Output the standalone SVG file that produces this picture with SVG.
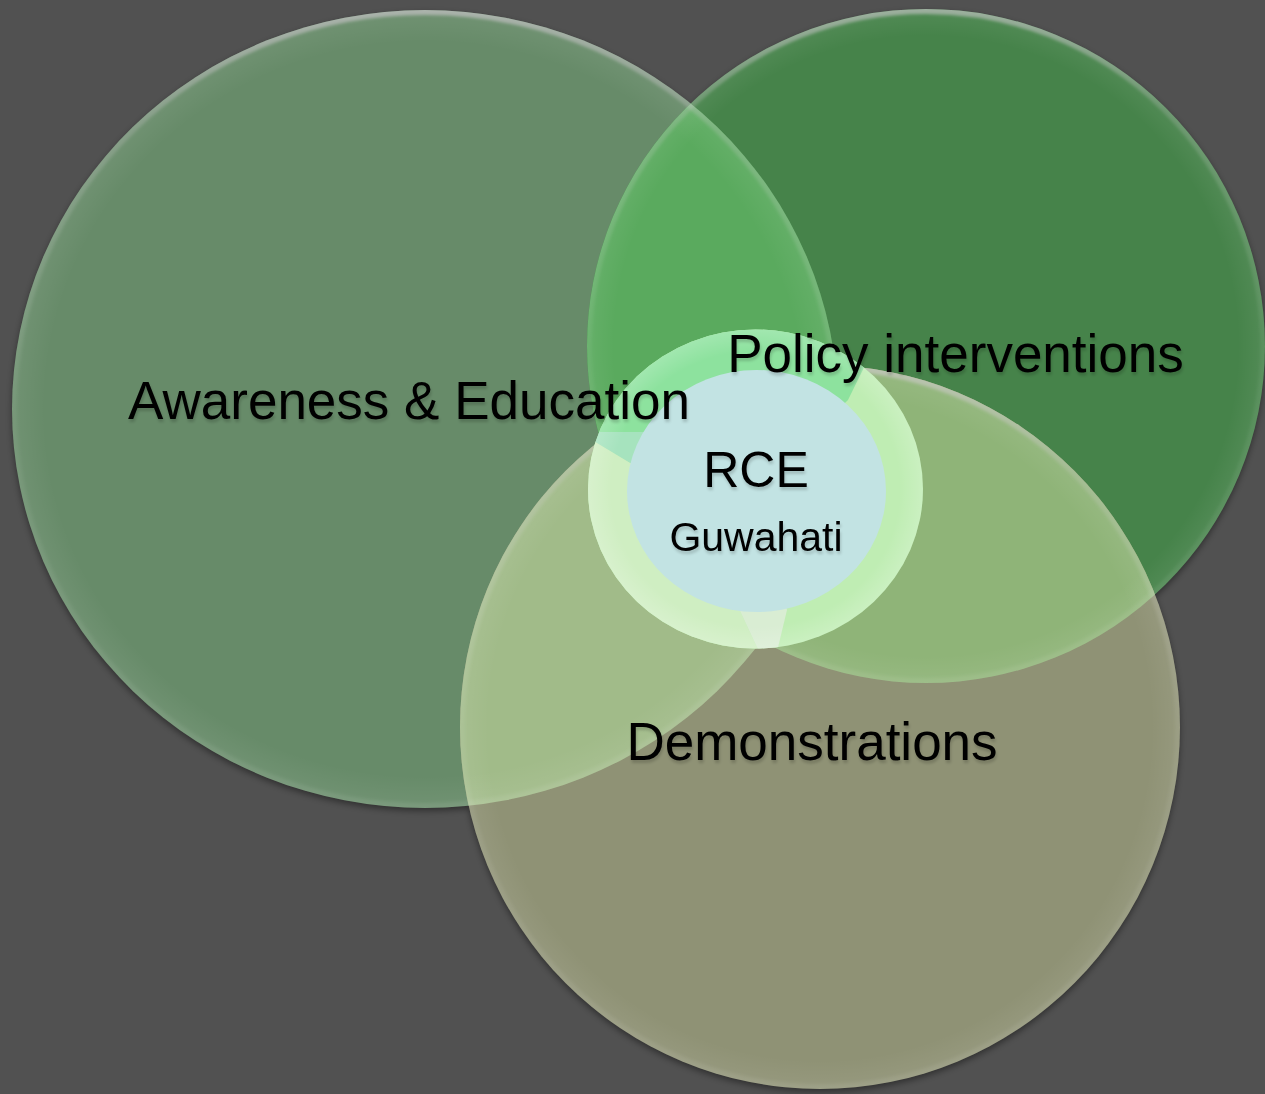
<svg xmlns="http://www.w3.org/2000/svg" width="1265" height="1094" viewBox="0 0 1265 1094">
<style>
  .lbl { font-family: "Liberation Sans", Arial, sans-serif; fill: #000; text-anchor: middle; filter: url(#txtShadow); }
  .big { font-size: 53px; }
  .rim { fill: url(#rim); }
  .tophi { fill: none; stroke: url(#topHi); stroke-width: 10; filter: url(#soft); }
</style>
<defs>
  <ellipse id="e1" cx="425" cy="409" rx="413" ry="399"/>
  <ellipse id="e2" cx="926" cy="346" rx="339" ry="337"/>
  <ellipse id="e3" cx="820" cy="727" rx="360" ry="362"/>
  <clipPath id="c1"><use href="#e1"/></clipPath>
  <clipPath id="c2"><use href="#e2"/></clipPath>
  <clipPath id="c3"><use href="#e3"/></clipPath>
  <clipPath id="cr"><ellipse cx="755.5" cy="489" rx="167.5" ry="159.5"/></clipPath>
  <radialGradient id="rim" cx="0.5" cy="0.5" r="0.5">
    <stop offset="0.92" stop-color="#ffffff" stop-opacity="0"/>
    <stop offset="0.98" stop-color="#ffffff" stop-opacity="0.05"/>
    <stop offset="1" stop-color="#ffffff" stop-opacity="0.08"/>
  </radialGradient>
  <radialGradient id="rimRing" cx="0.5" cy="0.5" r="0.5">
    <stop offset="0.86" stop-color="#ffffff" stop-opacity="0"/>
    <stop offset="1" stop-color="#ffffff" stop-opacity="0.18"/>
  </radialGradient>
  <linearGradient id="topHi" x1="0" y1="0" x2="0" y2="1">
    <stop offset="0" stop-color="#d8ccd8" stop-opacity="0.55"/>
    <stop offset="0.15" stop-color="#d8ccd8" stop-opacity="0.2"/>
    <stop offset="0.5" stop-color="#ffffff" stop-opacity="0.04"/>
    <stop offset="1" stop-color="#ffffff" stop-opacity="0.06"/>
  </linearGradient>
  <filter id="soft" x="-5%" y="-5%" width="110%" height="110%"><feGaussianBlur stdDeviation="1.5"/></filter>
  <filter id="shadow" x="-10%" y="-10%" width="120%" height="120%"><feGaussianBlur stdDeviation="3"/></filter>
  <filter id="txtShadow" x="-5%" y="-20%" width="110%" height="150%">
    <feGaussianBlur in="SourceAlpha" stdDeviation="1.8"/>
    <feOffset dx="1" dy="3"/>
    <feComponentTransfer><feFuncA type="linear" slope="0.18"/></feComponentTransfer>
    <feMerge><feMergeNode/><feMergeNode in="SourceGraphic"/></feMerge>
  </filter>
</defs>

<rect width="1265" height="1094" fill="#515151"/>

<g id="shadows" filter="url(#shadow)" opacity="0.4" transform="translate(0,3)">
  <use href="#e1" fill="#000"/>
  <use href="#e2" fill="#000"/>
  <use href="#e3" fill="#000"/>
</g>

<g id="node-awareness"><use href="#e1" fill="#678B69"/></g>
<g id="node-policy"><use href="#e2" fill="#46834A"/></g>
<g id="node-demonstrations"><use href="#e3" fill="#8F9275"/></g>

<g id="overlaps">
  <g clip-path="url(#c1)"><use href="#e2" fill="#5AAA5E"/></g>
  <g clip-path="url(#c1)"><use href="#e3" fill="#A1BB89"/></g>
  <g clip-path="url(#c2)"><use href="#e3" fill="#8FB478"/></g>
  <g clip-path="url(#c1)"><g clip-path="url(#c2)"><use href="#e3" fill="#B2CC9E"/></g></g>
</g>

<g id="bevels">
  <use href="#e1" class="rim"/>
  <use href="#e2" class="rim"/>
  <use href="#e3" class="rim"/>
  <g clip-path="url(#c1)"><use href="#e1" class="tophi"/></g>
  <g clip-path="url(#c2)"><use href="#e2" class="tophi"/></g>
  <g clip-path="url(#c3)"><use href="#e3" class="tophi"/></g>
</g>

<g id="node-rce">
  <ellipse cx="755.5" cy="489" rx="167.5" ry="159.5" fill="#BFEDB3"/>
  <g clip-path="url(#cr)">
    <polygon fill="#8DE29E" points="756,490 643,432 585,432 585,290 940,290 875,345 848,400"/>
    <polygon fill="#A6E3BE" points="756,490 643,432 585,432 585,436 630,463"/>
    <polygon fill="#CFEEC2" points="756,490 630,463 585,436 570,436 570,680 763,660 740,611"/>
    <polygon fill="#D9EDD3" points="756,490 740,611 763,660 775,660 787,610"/>
  </g>
  <ellipse cx="755.5" cy="489" rx="167.5" ry="159.5" fill="url(#rimRing)"/>
  <ellipse cx="756.5" cy="491" rx="129.5" ry="121" fill="#C2E3E3"/>
</g>

<g id="labels">
  <text id="label-awareness" class="lbl big" x="409" y="419">Awareness &amp; Education</text>
  <text id="label-policy" class="lbl big" x="955.5" y="372">Policy interventions</text>
  <text id="label-demonstrations" class="lbl big" x="812" y="760">Demonstrations</text>
  <text id="label-rce" class="lbl" x="756" y="487" font-size="50">RCE</text>
  <text id="label-guwahati" class="lbl" x="756" y="551" font-size="41">Guwahati</text>
</g>
</svg>
